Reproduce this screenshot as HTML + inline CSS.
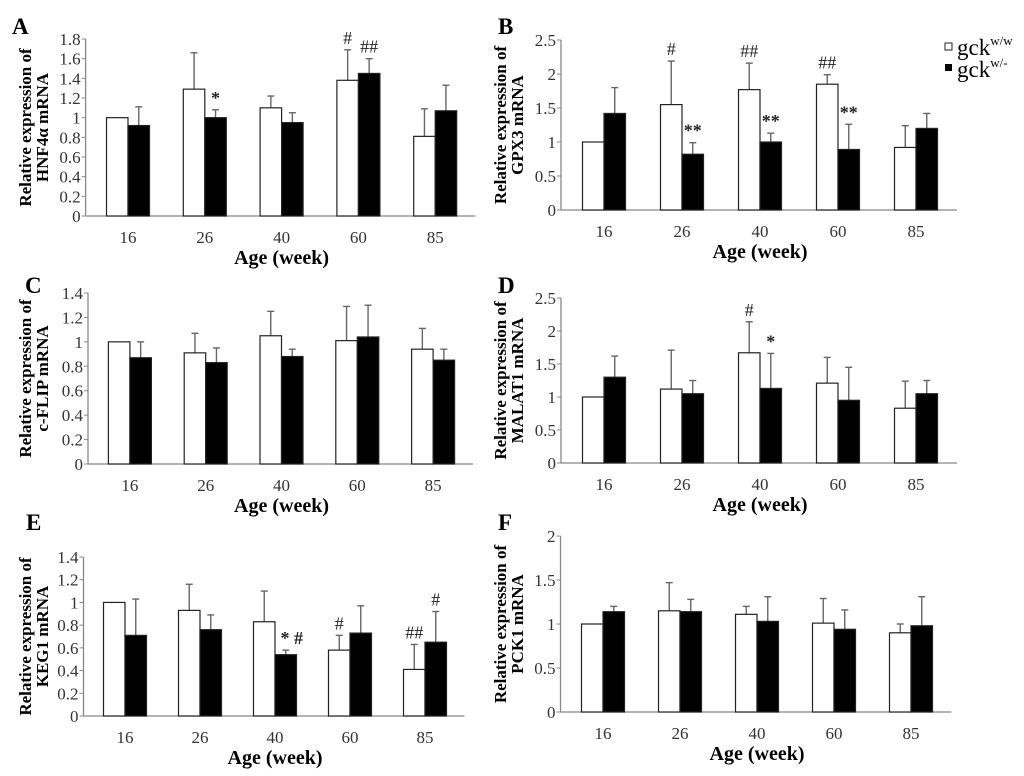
<!DOCTYPE html>
<html><head><meta charset="utf-8">
<style>
body{margin:0;background:#fff;}
svg{display:block;}
text{font-family:"Liberation Serif",serif;}
</style></head>
<body>
<svg id="fig" width="1024" height="776" viewBox="0 0 1024 776"></svg>
<script>
const categories = ["16","26","40","60","85"];
// Panel A HNF4a
const aWhite=[1.0,1.29,1.10,1.38,0.81], aWhiteErr=[0,0.37,0.12,0.31,0.28];
const aBlack=[0.92,1.00,0.95,1.45,1.07], aBlackErr=[0.19,0.08,0.10,0.15,0.26];
const aTicks=["0","0.2","0.4","0.6","0.8","1","1.2","1.4","1.6","1.8"];
// Panel B GPX3
const bWhite=[1.0,1.55,1.77,1.85,0.92], bWhiteErr=[0,0.64,0.39,0.14,0.32];
const bBlack=[1.42,0.82,1.00,0.89,1.20], bBlackErr=[0.38,0.17,0.13,0.37,0.22];
const bTicks=["0","0.5","1","1.5","2","2.5"];
// Panel C c-FLIP
const cWhite=[1.0,0.91,1.05,1.01,0.94], cWhiteErr=[0,0.16,0.20,0.28,0.17];
const cBlack=[0.87,0.83,0.88,1.04,0.85], cBlackErr=[0.13,0.12,0.06,0.26,0.09];
const cTicks=["0","0.2","0.4","0.6","0.8","1","1.2","1.4"];
// Panel D MALAT1
const dWhite=[1.0,1.12,1.67,1.21,0.83], dWhiteErr=[0,0.59,0.47,0.39,0.41];
const dBlack=[1.30,1.05,1.13,0.95,1.05], dBlackErr=[0.32,0.20,0.53,0.50,0.20];
const dTicks=["0","0.5","1","1.5","2","2.5"];
// Panel E KEG1
const eWhite=[1.0,0.93,0.83,0.58,0.41], eWhiteErr=[0,0.23,0.27,0.13,0.22];
const eBlack=[0.71,0.76,0.54,0.73,0.65], eBlackErr=[0.32,0.13,0.04,0.24,0.27];
const eTicks=["0","0.2","0.4","0.6","0.8","1","1.2","1.4"];
// Panel F PCK1
const fWhite=[1.0,1.15,1.11,1.01,0.90], fWhiteErr=[0,0.32,0.09,0.28,0.10];
const fBlack=[1.14,1.14,1.03,0.94,0.98], fBlackErr=[0.06,0.14,0.28,0.22,0.33];
const fTicks=["0","0.5","1","1.5","2"];
// Significance annotations: [categoryIndex, series(0 white/1 black), label]
const aAnn=[[1,1,"*"],[3,0,"#"],[3,1,"##"]];
const bAnn=[[1,0,"#"],[2,0,"##"],[3,0,"##"],[1,1,"**"],[2,1,"**"],[3,1,"**"]];
const cAnn=[];
const dAnn=[[2,0,"#"],[2,1,"*"]];
const eAnn=[[2,1,"* #"],[3,0,"#"],[4,0,"##"],[4,1,"#"]];
const fAnn=[];

const NS="http://www.w3.org/2000/svg";
const svg=document.getElementById('fig');
function mk(tag,attrs,parent){const e=document.createElementNS(NS,tag);for(const k in attrs)e.setAttribute(k,attrs[k]);(parent||svg).appendChild(e);return e;}

function panel(id,letter,lx,ly,x0,catW,y0,yTop,ymax,ticks,white,wErr,black,bErr,ann,t1,t2,tx1,tx2){
  const g=mk('g',{});
  
  
  const y=v=>y0-(v/ymax)*(y0-yTop);
  const cx=i=>x0+(i+0.5)*catW;
  const bw=21.5;
  const L=mk('text',{x:lx,y:ly,'font-size':23,'font-weight':'bold'},g);L.textContent=letter;
  
  
  const ax=mk('line',{x1:x0-4,y1:y0,x2:x0+5*catW+2,y2:y0,stroke:'#888','stroke-width':1.3},g);
  
  
  const ay=mk('line',{x1:x0-4,y1:y0,x2:x0-4,y2:yTop,stroke:'#888','stroke-width':1.3},g);
  
  
  ticks.forEach((t,i)=>{
    const v=parseFloat(t);
    mk('line',{x1:x0-8,y1:y(v),x2:x0-4,y2:y(v),stroke:'#888','stroke-width':1},g);
    const tt=mk('text',{x:x0-9,y:y(v)+6,'font-size':17,'text-anchor':'end',fill:'#333'},g);tt.textContent=t;
    
    
  });
  categories.forEach((c,i)=>{
    const xt=mk('text',{x:cx(i),y:y0+27,'font-size':17,'text-anchor':'middle',fill:'#333','font-family':'Liberation Sans, sans-serif'},g);xt.textContent=c;
    
    
    [[white,wErr,'#fff',-1],[black,bErr,'#000',0]].forEach(([vals,errs,fill,off],s)=>{
      const bx=cx(i)+off*bw;
      const v=vals[i];
      if(errs[i]>0){
        const xm=bx+bw/2, yt=y(v+errs[i]);
        mk('line',{x1:xm,y1:y(v),x2:xm,y2:yt,stroke:'#666','stroke-width':1.4},g);
        mk('line',{x1:xm-3.5,y1:yt,x2:xm+3.5,y2:yt,stroke:'#666','stroke-width':1.4},g);
      }
      const r=mk('rect',{x:bx,y:y(v),width:bw,height:y0-y(v),fill:fill,stroke:'#222','stroke-width':1.2},g);
      
      
    });
  });
  ann.forEach(([i,s,lab])=>{
    const vals=s?black:white, errs=s?bErr:wErr;
    const xm=cx(i)+(s?0:-1)*bw+bw/2;
    const a=mk('text',{x:xm+(lab==='* #'?6:0),y:y(vals[i]+errs[i])-6,'font-size':18,'text-anchor':'middle',fill:'#222','font-weight':lab.includes('*')?'bold':'normal'},g);
    a.textContent=lab;
    
    
  });
  const at=mk('text',{x:cx(2),y:y0+48,'font-size':20,'font-weight':'bold','text-anchor':'middle'},g);at.textContent='Age (week)';
  
  
  const cy=(y0+yTop)/2;
  const yt1=mk('text',{x:0,y:0,'font-size':17,'font-weight':'bold','text-anchor':'middle',transform:`translate(${tx1},${cy}) rotate(-90)`},g);yt1.textContent=t1;
  
  
  const yt2=mk('text',{x:0,y:0,'font-size':17,'font-weight':'bold','text-anchor':'middle',transform:`translate(${tx2},${cy}) rotate(-90)`},g);yt2.textContent=t2;
  
  
}
panel('a','A',12,34,89.6,76.8,216,39,1.8,aTicks,aWhite,aWhiteErr,aBlack,aBlackErr,aAnn,'Relative expression of','HNF4α mRNA',31,48);
panel('b','B',498,34,565,78,210,40,2.5,bTicks,bWhite,bWhiteErr,bBlack,bBlackErr,bAnn,'Relative expression of','GPX3 mRNA',506,523);
panel('c','C',25,293,92,75.8,464,293,1.4,cTicks,cWhite,cWhiteErr,cBlack,cBlackErr,cAnn,'Relative expression of','c-FLIP mRNA',31,48);
panel('d','D',498,293,565,78,463,298,2.5,dTicks,dWhite,dWhiteErr,dBlack,dBlackErr,dAnn,'Relative expression of','MALAT1 mRNA',506,523);
panel('e','E',26,530,87.5,75,716,557,1.4,eTicks,eWhite,eWhiteErr,eBlack,eBlackErr,eAnn,'Relative expression of','KEG1 mRNA',31,48);
panel('f','F',498,530,564.5,77,712,536,2,fTicks,fWhite,fWhiteErr,fBlack,fBlackErr,fAnn,'Relative expression of','PCK1 mRNA',506,523);

const lg=mk('g',{});


mk('rect',{x:945,y:43,width:7,height:7,fill:'#fff',stroke:'#222','stroke-width':1},lg);
mk('rect',{x:945,y:64,width:7,height:7,fill:'#000'},lg);
const l1=mk('text',{x:957,y:55,'font-size':23},lg);l1.innerHTML='gck<tspan font-size="13" dy="-10">w/w</tspan>';


const l2=mk('text',{x:957,y:77,'font-size':23},lg);l2.innerHTML='gck<tspan font-size="13" dy="-10">w/-</tspan>';


</script>
</body></html>
